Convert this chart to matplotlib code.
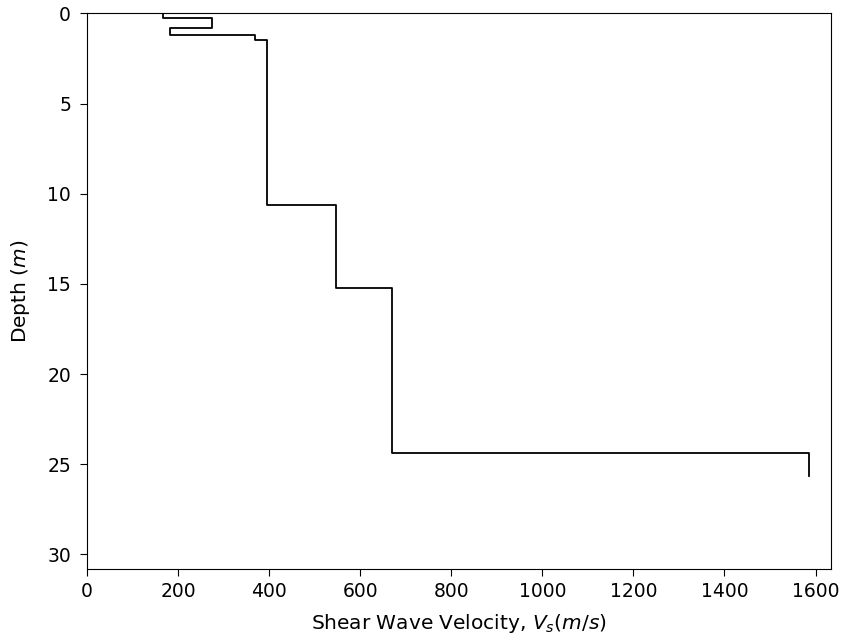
import numpy as np
import matplotlib
matplotlib.use("Agg")
import matplotlib.pyplot as plt

# Layered shear-wave velocity profile
layer_top = [0.0, 0.27, 0.82, 1.19, 1.48, 10.62, 15.24, 24.38]
layer_bottom = [0.27, 0.82, 1.19, 1.48, 10.62, 15.24, 24.38, 25.68]
vs = [168, 274, 182, 368, 396, 546, 670, 1586]

# Build the step outline: each layer drawn as a vertical segment at its Vs
x = []
y = []
for top, bot, v in zip(layer_top, layer_bottom, vs):
    x += [v, v]
    y += [top, bot]

fig = plt.figure(figsize=(8.43, 6.41), dpi=100)
ax = fig.add_axes([0.1032, 0.1123, 0.8826, 0.8667])
ax.plot(x, y, color="black", linewidth=1.3)

ax.set_xlim(0, 1634)
ax.set_ylim(1.2 * layer_bottom[-1], 0)
ax.set_xticks(np.arange(0, 1601, 200))
ax.set_yticks(np.arange(0, 31, 5))
ax.set_xlabel("Shear Wave Velocity, $V_s(m/s)$", fontsize=14.5, labelpad=8)
ax.set_ylabel("Depth ($m$)", fontsize=14.5, labelpad=11)
ax.tick_params(axis="x", labelsize=13.5, length=5, pad=4.5)
ax.tick_params(axis="y", labelsize=13.5, length=5, pad=6.5)

fig.savefig("out.png", dpi=100)
